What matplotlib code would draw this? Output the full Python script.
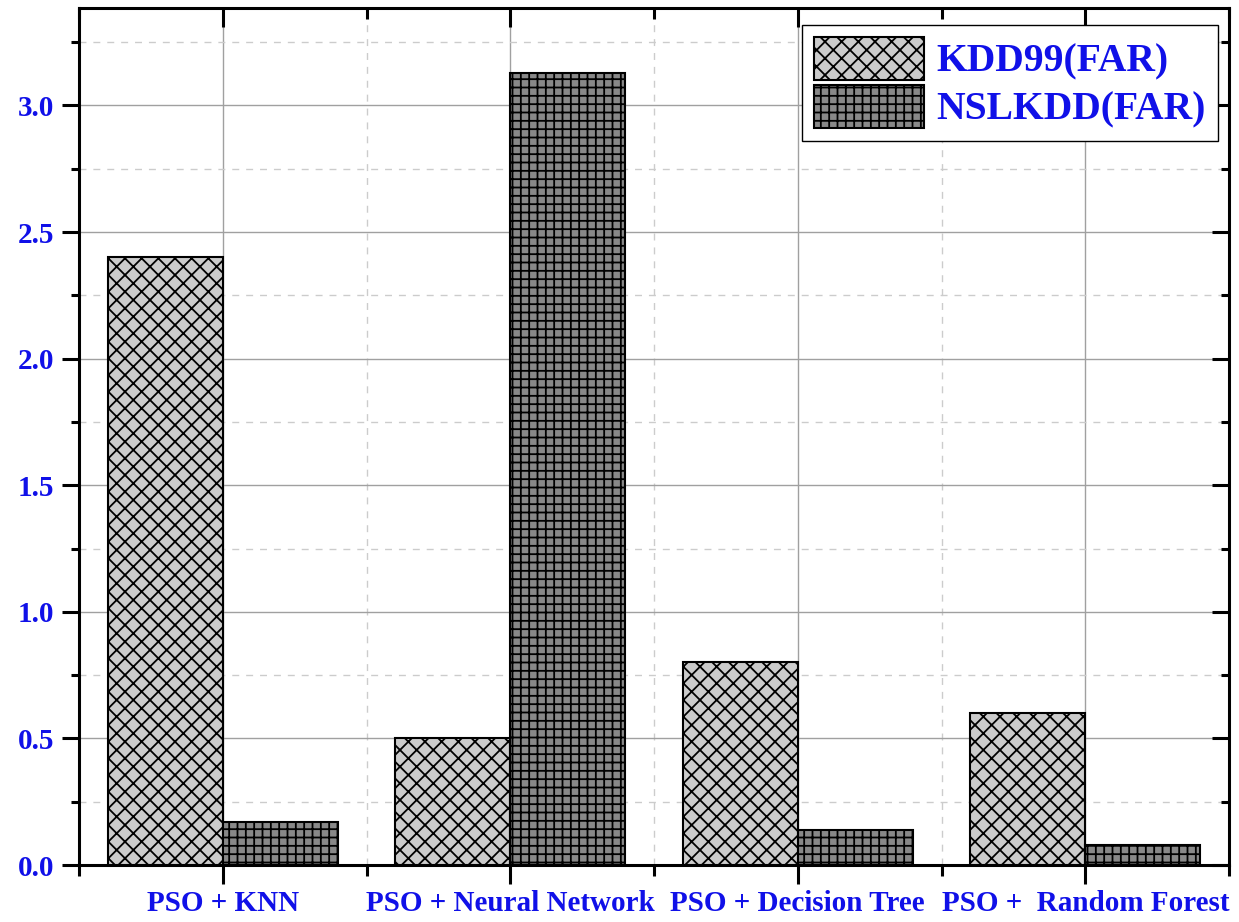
import numpy as np
import matplotlib.pyplot as plt
from matplotlib.ticker import MultipleLocator, FixedLocator

categories = ["PSO + KNN", "PSO + Neural Network", "PSO + Decision Tree", "PSO +  Random Forest"]
kdd99_far = [2.40, 0.50, 0.80, 0.60]
nslkdd_far = [0.17, 3.13, 0.14, 0.08]

blue = "#1010e8"
plt.rcParams["font.family"] = ["Liberation Serif", "DejaVu Serif"]
plt.rcParams["font.weight"] = "bold"
plt.rcParams["hatch.linewidth"] = 1.3

fig = plt.figure(figsize=(12.39, 9.22), dpi=100)
ax = fig.add_axes([79 / 1239, 1 - 865 / 922, 1150 / 1239, 857 / 922])

x = np.arange(len(categories))
w = 0.4
ax.bar(x - w / 2, kdd99_far, w, color="#cbcbcb", edgecolor="black",
       linewidth=1.5, hatch="xx", label="KDD99(FAR)", zorder=3)
ax.bar(x + w / 2, nslkdd_far, w, color="#888888", edgecolor="black",
       linewidth=1.5, hatch="++", label="NSLKDD(FAR)", zorder=3)

ax.set_xlim(-0.5, 3.5)
ax.set_ylim(0, 3.385)
ax.yaxis.set_major_locator(MultipleLocator(0.5))
ax.yaxis.set_minor_locator(MultipleLocator(0.25))
ax.xaxis.set_major_locator(FixedLocator(x))
ax.xaxis.set_minor_locator(FixedLocator(np.arange(-0.5, 4, 1.0)))
ax.set_xticklabels(categories)

ax.grid(which="major", color="#a0a0a0", linewidth=1.0, linestyle="-", zorder=0)
ax.grid(which="minor", color="#cccccc", linewidth=1.0, linestyle=(0, (5, 5)), zorder=0)

for s in ax.spines.values():
    s.set_linewidth(2.2)

ax.tick_params(axis="both", which="major", direction="out", length=12, width=2.2,
               labelsize=21, labelcolor=blue)
ax.tick_params(axis="both", which="minor", direction="out", length=6, width=2.2)
ax.tick_params(axis="y", which="major", pad=6)
ax.tick_params(axis="x", which="major", length=14, pad=4)
ax.tick_params(axis="x", which="minor", length=8)

# inward ticks on top and right
ax.tick_params(axis="x", which="both", top=True)
ax.tick_params(axis="y", which="both", right=True)
for t in ax.xaxis.get_major_ticks() + ax.xaxis.get_minor_ticks():
    t.tick2line.set_marker(3)
for t in ax.yaxis.get_major_ticks() + ax.yaxis.get_minor_ticks():
    t.tick2line.set_marker(0)

leg = ax.legend(loc="upper right", bbox_to_anchor=(0.990, 0.980), fontsize=28.5,
                frameon=True, fancybox=False, edgecolor="black", framealpha=1,
                handlelength=2.8, handleheight=1.3, handletextpad=0.3,
                labelspacing=0.1, borderpad=0.3, borderaxespad=0.0)
leg.get_frame().set_linewidth(1.0)
for txt in leg.get_texts():
    txt.set_color(blue)

fig.savefig("out.png", dpi=100)
